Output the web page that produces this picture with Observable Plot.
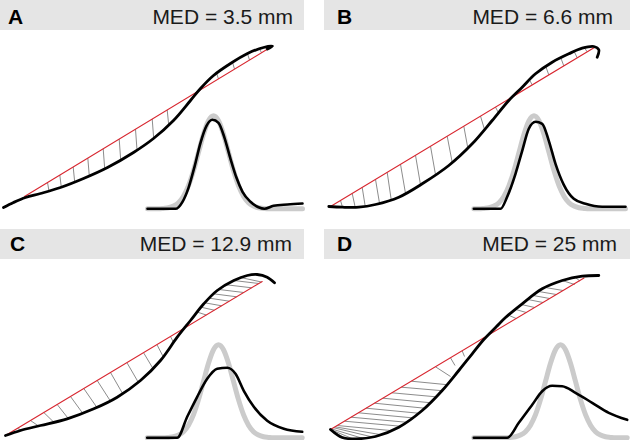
<!DOCTYPE html>
<html><head><meta charset="utf-8">
<script src="https://cdn.jsdelivr.net/npm/d3@7"></script>
<script src="https://cdn.jsdelivr.net/npm/@observablehq/plot@0.6"></script>
<style>
body{margin:0;background:#fff;font-family:Arial,"Liberation Sans",sans-serif;}
#fig{position:relative;width:630px;height:440px;overflow:hidden;background:#fff;}
.panel{position:absolute;}
.head{position:relative;height:30px;background:#e5e5e5;}
.letter{position:absolute;font-weight:bold;font-size:21px;line-height:1;color:#000;}
.med{position:absolute;font-size:21px;line-height:1;color:#1a1a1a;white-space:nowrap;}
.panel svg{display:block;overflow:visible;}
</style></head><body><div id="fig"></div>
<script>
// ---- data (panel-local units) ----
const letters = ["A", "B", "C", "D"];
const medTexts = ["MED = 3.5 mm", "MED = 6.6 mm", "MED = 12.9 mm", "MED = 25 mm"];

// main S-shaped curves [x, y]
const curveA = [[3,177],[13,172],[25,167],[40,163],[60,157],[83,148],[107,137],[133,122],[153,108],[173,90],[190,70],[200,58],[213,45],[230,33],[247,23],[263,17],[272,15.8],[267,18.6]];
const curveB = [[4.3,176],[17.7,176.7],[34.3,176.7],[51,174],[74.3,166.7],[97.7,153.3],[124.3,135],[147.7,113.3],[167.7,90],[184.3,70],[197.7,56.7],[211,43.3],[227.7,31.7],[244.3,23.3],[257.7,17.7],[269.3,16],[274.3,19.3],[272.7,26.7]];
const curveC = [[5,176],[20,171],[40,166],[66.7,159.3],[93.3,149.3],[116.7,137.7],[140,121],[160,101],[176.7,77.7],[190,61],[203.3,44.3],[216.7,31],[233.3,21],[246.7,16],[256.7,15],[266.7,17.7],[274,23.3]];
const curveD = [[6,170],[17.7,178],[31,179.3],[51,177],[74.3,167.7],[97.7,151],[117.7,131],[134.3,111],[147.7,94.3],[159.3,80],[172,67],[181,58],[197.7,44.3],[217.7,29.3],[237.7,21],[257.7,16.7],[274.3,16]];

// red straight lines [x, y] start and end
const redA = [[24,166],[268,18]];
const redB = [[6,176],[270.3,16.7]];
const redC = [[5,176],[261.7,22]];
const redD = [[6,170],[259.5,18.5]];

// hatch segments [x1, y1, x2, y2]
const hatchA = [[47,152,48.5,160.5],[59.3,144.5,60.8,156.8],[72.7,136.5,74.2,151.5],[87.3,127.6,88.8,145.5],[102.7,118.3,104.2,138.1],[118.7,108.6,120.2,129.4],[135,98.7,136.5,119.6],[151.7,88.5,153.2,107.8],[166.7,79.4,168.2,94.3],
  [216,42.5,218,48.5],[232,31.8,234,38.6],[247,23.3,249,29.5],[259,18.4,261,22.2]];
const hatchB = [[16,170,18,176.7],[27.7,162.9,30.7,176.7],[37.7,156.9,40.7,175.7],[51,148.9,55,172.7],[62.7,141.8,66.7,169.1],[76,133.8,81,162.9],[91,124.8,96,154.3],[106,115.7,111,144.2],[122.7,105.7,127.7,131.8],[139.3,95.7,143.3,117.4],[156,85.6,160,99],[171,76.6,174,82.4],
  [204.7,48.8,207.7,54.4],[221.3,36,224.3,44.4],[236.3,27.3,239.3,35.4],[249.7,21,252.7,27.3],[260,17.4,262.7,21.3]];
const hatchC = [[16.7,169,21.7,170.6],[30,161,38,166.5],[43.3,153,53.3,162.7],[56.7,145,67.7,158.9],[70,137,82,153.5],[83.3,129,96.3,147.8],[96.7,121,109.7,141.2],[110,113,122,133.9],[126.7,103.6,137.7,122.6],[143.3,93.6,152.3,108.7],[156.7,85.6,162.7,97.2],[170,77,173,82.9],
  [240,18,261,22.5],[233.3,21,258.3,24],[226,25.3,251.2,28.3],[218.5,30,243.3,33],[213,34.3,236.2,37.3],[209,38.7,228.8,41.7],[204.3,43.3,221.2,46.3],[200.5,47.7,213.8,50.7],[196.5,52.5,205.8,55.5]];
const hatchD = [[6,170,20,178.4],[6,170,28,179.2],[7,169.4,38,178.8],[9,168.2,48,177.5],[10.5,167.3,57,175.3],
  [12.7,166,66,171],[19.9,161.7,75.7,166.7],[26.6,157.7,81.3,162.7],[33.9,153.3,87.5,158.3],[41.6,148.7,93.9,153.7],[50,143.7,100,148.7],[58.4,138.7,105.5,143.2],[67.4,133.3,111.4,137.3],[76.8,127.7,117.5,131.2],[86.8,121.7,122.5,125.2],[111,107.3,126,117],[126,98.3,130.5,106],[137.7,91.4,140,97],
  [251,18,255.3,21.5],[237.7,21,250.2,25],[220.8,28,238.6,31],[214.1,32,231.9,35],[208.8,36,225.2,39],[203.4,40,218.5,43],[196.9,45,210.2,48],[191.3,50,201.8,53],[184.7,56,191.7,59]];

// inset distributions: black curve [x, height above baseline]
const insetA = [[147,0],[175,0],[182,7],[188,21],[194,42],[200,66],[206,83],[212,89],[218,86],[224,71],[230,50],[236,31],[242,17],[250,7],[258,1.5],[264,0],[273,3],[287,4.3],[302,5.3]];
const insetB = [[149.3,0],[176,0],[182.7,12],[191,35],[197.7,58],[204.3,80],[211,87],[217.7,85],[224.3,68],[231,45],[239.3,24],[249.3,10],[261,5],[277.7,2],[301,2]];
const insetC = [[146.7,0],[176.7,0],[186.7,21],[196.7,41],[206.7,59],[216.7,69],[226.7,70],[235,64],[243.3,47],[253.3,31],[266.7,17],[283.3,9],[301.7,6]];
const insetD = [[149.3,0],[182.7,0],[194.3,15],[207.7,33],[217.7,46.6],[227.7,52],[237.7,51.6],[251,45],[267.7,35],[284.3,25],[302.7,18]];

// reference (gray) distribution: centre per panel and shared profile [dx, height]
const grayCenters = [213, 209.5, 218, 236];
const grayProfile = [[-55,0],[-50,0.4],[-45,1],[-40,2.7],[-35,6.1],[-30,12.6],[-25,23.2],[-20,38.2],[-15,56.4],[-10,74.5],[-5,88],[0,93],[5,88],[10,74.5],[15,56.4],[20,38.2],[25,23.2],[30,12.6],[35,6.1],[40,2.7],[45,1],[50,0.4],[55,0]];

const curves = [curveA, curveB, curveC, curveD];
const reds = [redA, redB, redC, redD];
const hatches = [hatchA, hatchB, hatchC, hatchD];
const insets = [insetA, insetB, insetC, insetD];

// ---- layout / style ----
const layout = [
  {left:0, top:0, w:304, letterX:8, medR:11, textTop:6},
  {left:324, top:0, w:306, letterX:13, medR:17, textTop:6},
  {left:0, top:229, w:304, letterX:10, medR:12, textTop:4},
  {left:324, top:229, w:306, letterX:13, medR:13, textTop:4}
];
const PH = 181;       // plot height
const BASE = 178.3;   // inset baseline (local y)

const fig = document.getElementById("fig");
letters.forEach((L, i) => {
  const lay = layout[i];
  const panel = document.createElement("div");
  panel.className = "panel";
  panel.style.left = lay.left + "px";
  panel.style.top = lay.top + "px";
  panel.style.width = lay.w + "px";
  const head = document.createElement("div");
  head.className = "head";
  const lt = document.createElement("span");
  lt.className = "letter"; lt.textContent = L;
  lt.style.left = lay.letterX + "px"; lt.style.top = lay.textTop + "px";
  const md = document.createElement("span");
  md.className = "med"; md.textContent = medTexts[i];
  md.style.right = lay.medR + "px"; md.style.top = lay.textTop + "px";
  head.appendChild(lt); head.appendChild(md);
  panel.appendChild(head);

  const ins = insets[i];
  const x0 = ins[0][0], x1 = ins[ins.length - 1][0];
  const c = grayCenters[i];
  const gray = [[x0, 0], ...grayProfile.map(([dx, h]) => [c + dx, h]), [x1, 0]];

  const chart = Plot.plot({
    width: lay.w, height: PH, margin: 0,
    x: {domain: [0, lay.w], range: [0, lay.w], axis: null},
    y: {domain: [0, PH], range: [0, PH], axis: null},
    marks: [
      Plot.line(gray, {x: d => d[0], y: d => BASE - d[1], stroke: "#cbcbcb", strokeWidth: 5, curve: "monotone-x"}),
      Plot.line(ins, {x: d => d[0], y: d => BASE - d[1], stroke: "#000", strokeWidth: 2.6, curve: "monotone-x"}),
      Plot.link(hatches[i], {x1: d => d[0], y1: d => d[1], x2: d => d[2], y2: d => d[3], stroke: "#8c8c8c", strokeWidth: 1}),
      Plot.line(reds[i], {x: d => d[0], y: d => d[1], stroke: "#d8262f", strokeWidth: 1.1}),
      Plot.line(curves[i], {x: d => d[0], y: d => d[1], stroke: "#000", strokeWidth: 2.8, curve: "catmull-rom"})
    ]
  });
  panel.appendChild(chart);
  fig.appendChild(panel);
});
</script></body></html>
